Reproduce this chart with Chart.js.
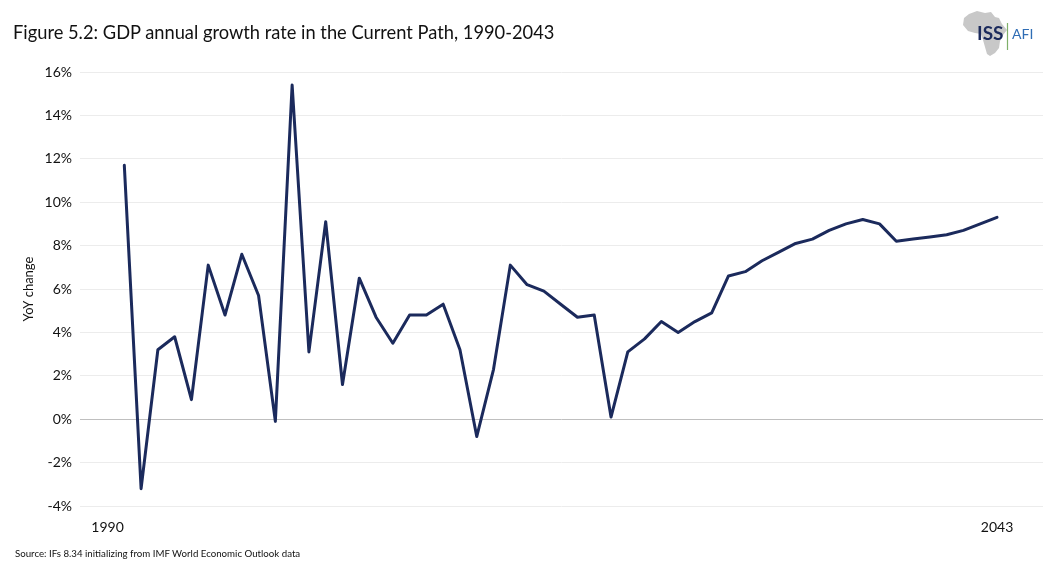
<!DOCTYPE html>
<html>
<head>
<meta charset="utf-8">
<script src="https://cdn.jsdelivr.net/npm/chart.js@4.4.1/dist/chart.umd.min.js"></script>
<style>
    html, body { margin: 0; padding: 0; background: #fff; }
    body { width: 1055px; height: 584px; position: relative; overflow: hidden; font-family: Lato, "Open Sans", sans-serif; }
    #wrap { position: absolute; left: 0; top: 0; width: 1055px; height: 584px; }
    .fig-title { position: absolute; left: 13px; top: 21px; font-size: 18.3px; color: #111; white-space: nowrap; }
    .source { position: absolute; left: 15px; top: 547px; font-size: 9.7px; color: #111; white-space: nowrap; }
    .logo { position: absolute; left: 955px; top: 8px; width: 90px; height: 52px; }
</style>
</head>
<body>
<div id="wrap"><canvas id="growthChart" width="1055" height="584"></canvas></div>
<div class="fig-title">Figure 5.2: GDP annual growth rate in the Current Path, 1990-2043</div>
<div class="source">Source: IFs 8.34 initializing from IMF World Economic Outlook data</div>
<svg class="logo" viewBox="0 0 90 52">
    <!-- rough outline of Africa behind the logo text -->
    <path d="M14 6 L22 3 L30 5 L36 4 L40 9 L44 10 L47 16 L52 22 L48 27 L45 33 L44 40 L40 45 L35 48 L32 46 L30 39 L28 32 L26 26 L20 25 L13 23 L8 17 L9 10 Z" fill="#c8c8c8"/>
    <text x="22" y="32" font-family="Lato, sans-serif" font-size="19" font-weight="bold" fill="#1b2a5c">ISS</text>
    <line x1="52.5" y1="15" x2="52.5" y2="42" stroke="#7fb069" stroke-width="1.2"/>
    <text x="57" y="31" font-family="Lato, sans-serif" font-size="14" fill="#2f6db5">AFI</text>
</svg>
<script>
// Years on the category axis (1990 has no growth value)
const years = [
    1990, 1991, 1992, 1993, 1994, 1995, 1996, 1997, 1998, 1999,
    2000, 2001, 2002, 2003, 2004, 2005, 2006, 2007, 2008, 2009,
    2010, 2011, 2012, 2013, 2014, 2015, 2016, 2017, 2018, 2019,
    2020, 2021, 2022, 2023, 2024, 2025, 2026, 2027, 2028, 2029,
    2030, 2031, 2032, 2033, 2034, 2035, 2036, 2037, 2038, 2039,
    2040, 2041, 2042, 2043
];

// GDP growth, % year on year
const growth = [
    null, 11.7, -3.2, 3.2, 3.8, 0.9, 7.1, 4.8, 7.6, 5.7,
    -0.1, 15.4, 3.1, 9.1, 1.6, 6.5, 4.7, 3.5, 4.8, 4.8,
    5.3, 3.2, -0.8, 2.3, 7.1, 6.2, 5.9, 5.3, 4.7, 4.8,
    0.1, 3.1, 3.7, 4.5, 4.0, 4.5, 4.9, 6.6, 6.8, 7.3,
    7.7, 8.1, 8.3, 8.7, 9.0, 9.2, 9.0, 8.2, 8.3, 8.4,
    8.5, 8.7, 9.0, 9.3
];

// only the end years are labelled
const xTickYears = [1990, 2043];

const points = years.map((y, i) => ({ x: y, y: growth[i] }));

new Chart(document.getElementById('growthChart'), {
    type: 'line',
    data: {
        datasets: [{
            label: 'GDP growth',
            data: points,
            borderColor: '#1b2a5c',
            borderWidth: 3,
            borderJoinStyle: 'round',
            borderCapStyle: 'round',
            pointRadius: 0,
            tension: 0,
            spanGaps: false
        }]
    },
    options: {
        responsive: false,
        animation: false,
        layout: { padding: { left: 0, right: 12, top: 72, bottom: 0 } },
        plugins: {
            legend: { display: false },
            tooltip: { enabled: false }
        },
        scales: {
            x: {
                type: 'linear',
                min: 1988.36,
                max: 2045.74,
                grid: { display: false, drawTicks: false },
                border: { display: false },
                afterBuildTicks: (scale) => {
                    scale.ticks = xTickYears.map(v => ({ value: v }));
                },
                afterFit: (scale) => { scale.height = 78; },
                ticks: {
                    padding: 13,
                    maxRotation: 0,
                    autoSkip: false,
                    color: '#111',
                    font: { family: 'Lato', size: 14 },
                    callback: (v) => String(v)
                }
            },
            y: {
                min: -4,
                max: 16,
                grid: {
                    drawTicks: false,
                    lineWidth: 1,
                    color: (ctx) => ctx.tick && ctx.tick.value === 0 ? '#bfbfbf' : '#ececec'
                },
                border: { display: false },
                afterFit: (scale) => { scale.width = 80; },
                ticks: {
                    stepSize: 2,
                    padding: 8,
                    color: '#111',
                    font: { family: 'Lato', size: 14 },
                    callback: (v) => v + '%'
                },
                title: {
                    display: true,
                    text: 'YoY change',
                    color: '#111',
                    padding: { top: 21, bottom: 0 },
                    font: { family: 'Lato', size: 13 }
                }
            }
        }
    }
});
</script>
</body>
</html>
